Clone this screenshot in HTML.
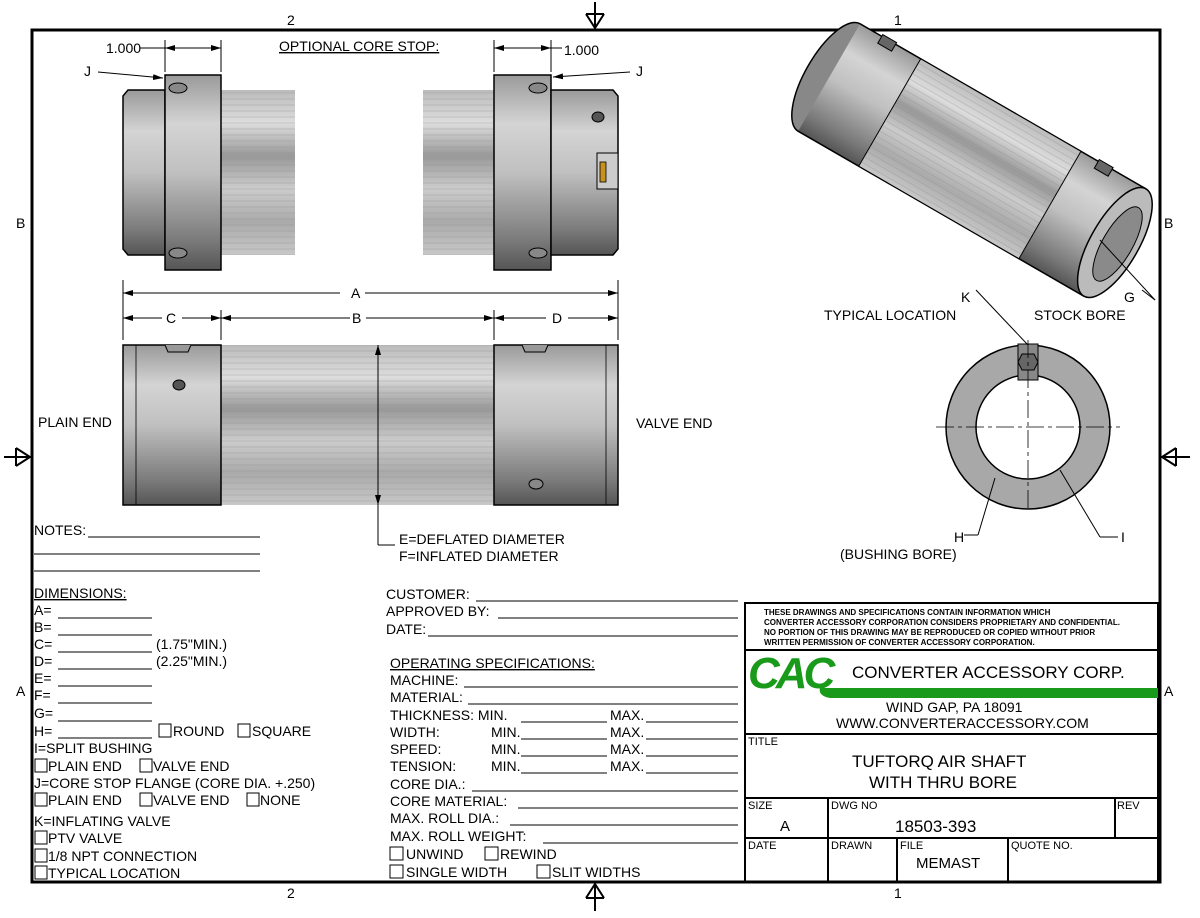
<!DOCTYPE html>
<html><head><meta charset="utf-8"><style>
body{margin:0;background:#fff}
svg text{font-family:"Liberation Sans",Arial,sans-serif;fill:#000}
</style></head><body>
<svg width="1200" height="913" viewBox="0 0 1200 913" xmlns="http://www.w3.org/2000/svg">
<defs>
<linearGradient id="cyl" x1="0" y1="0" x2="0" y2="1">
<stop offset="0" stop-color="#9a9a9a"/><stop offset="0.25" stop-color="#d4d4d4"/><stop offset="0.5" stop-color="#c0c0c0"/><stop offset="0.85" stop-color="#7a7a7a"/><stop offset="1" stop-color="#555"/></linearGradient>
<linearGradient id="flu" x1="0" y1="0" x2="0" y2="1">
<stop offset="0" stop-color="#bbb"/><stop offset="0.2" stop-color="#ddd"/><stop offset="0.4" stop-color="#999"/><stop offset="0.6" stop-color="#ccc"/><stop offset="0.8" stop-color="#aaa"/><stop offset="1" stop-color="#c8c8c8"/></linearGradient>
<pattern id="str" width="4" height="6" patternUnits="userSpaceOnUse"><rect width="4" height="6" fill="none"/><line x1="0" y1="3" x2="4" y2="3" stroke="#888" stroke-width="0.6" opacity="0.5"/></pattern>
<marker id="ar" markerWidth="10" markerHeight="6" refX="10" refY="3" orient="auto" markerUnits="userSpaceOnUse"><path d="M0,0 L10,3 L0,6z" fill="#000"/></marker>
</defs>
<g stroke="#000" fill="none">
<rect x="32" y="30" width="1128" height="852" stroke-width="3"/>
</g>
<g font-size="14">
<text x="287" y="25">2</text><text x="894" y="25">1</text><text x="287" y="898">2</text><text x="894" y="898">1</text>
<text x="16" y="228">B</text><text x="1164" y="228">B</text><text x="16" y="696">A</text><text x="1164" y="696">A</text>
</g>
<g stroke="#000" stroke-width="2" fill="none">
<line x1="595" y1="2" x2="595" y2="30"/><path d="M586,14 L595,28 L604,14"/><line x1="586" y1="14" x2="604" y2="14"/>
<line x1="595" y1="882" x2="595" y2="911"/><path d="M586,898 L595,884 L604,898"/><line x1="586" y1="898" x2="604" y2="898"/>
<line x1="4" y1="457" x2="32" y2="457"/><path d="M16,448 L30,457 L16,466"/><line x1="16" y1="448" x2="16" y2="466"/>
<line x1="1160" y1="457" x2="1190" y2="457"/><path d="M1176,448 L1162,457 L1176,466"/><line x1="1176" y1="448" x2="1176" y2="466"/>
</g>

<!-- top views -->
<g stroke="#000" stroke-width="1.5">
<rect x="221" y="90" width="74" height="165" fill="url(#flu)" stroke="none"/>
<rect x="221" y="90" width="74" height="165" fill="url(#str)" stroke="none"/>
<path d="M123,96 L128,90 L165,90 L165,255 L128,255 L123,249Z" fill="url(#cyl)"/>
<rect x="165" y="75" width="56" height="195" fill="url(#cyl)"/>
<rect x="423" y="90" width="71" height="165" fill="url(#flu)" stroke="none"/>
<rect x="423" y="90" width="71" height="165" fill="url(#str)" stroke="none"/>
<rect x="494" y="75" width="57" height="195" fill="url(#cyl)"/>
<path d="M551,90 L613,90 L618,96 L618,249 L613,255 L551,255Z" fill="url(#cyl)"/>
<rect x="597" y="153" width="21" height="36" fill="#ccc" stroke-width="1"/>
<rect x="600" y="162" width="6" height="20" fill="#c8901c" stroke-width="0.8"/>
</g>
<g fill="#555" stroke="#000">
<ellipse cx="178" cy="88" rx="9" ry="5" fill="#888"/><ellipse cx="178" cy="253" rx="9" ry="5" fill="#888"/>
<ellipse cx="538" cy="88" rx="9" ry="5" fill="#888"/><ellipse cx="538" cy="253" rx="9" ry="5" fill="#888"/>
<ellipse cx="598" cy="117" rx="6" ry="5"/>
</g>
<g stroke="#000" stroke-width="1">
<line x1="165" y1="40" x2="165" y2="72"/><line x1="221" y1="40" x2="221" y2="72"/>
<line x1="140" y1="48" x2="165" y2="48"/><line x1="165" y1="48" x2="221" y2="48" marker-end="url(#ar)"/><line x1="221" y1="48" x2="165" y2="48" marker-end="url(#ar)"/>
<line x1="494" y1="40" x2="494" y2="72"/><line x1="551" y1="40" x2="551" y2="72"/>
<line x1="494" y1="48" x2="551" y2="48" marker-end="url(#ar)"/><line x1="551" y1="48" x2="494" y2="48" marker-end="url(#ar)"/><line x1="551" y1="48" x2="562" y2="48"/>
<line x1="98" y1="72" x2="163" y2="78" marker-end="url(#ar)"/>
<line x1="630" y1="72" x2="553" y2="77" marker-end="url(#ar)"/>
</g>
<g font-size="14">
<text x="106" y="53">1.000</text><text x="564" y="55">1.000</text>
<text x="84" y="76">J</text><text x="636" y="76">J</text>
<text x="279" y="51" text-decoration="underline">OPTIONAL CORE STOP:</text>
</g>

<g stroke="#000" stroke-width="1">
<line x1="123" y1="280" x2="123" y2="340"/><line x1="618" y1="280" x2="618" y2="340"/>
<line x1="221" y1="310" x2="221" y2="340"/><line x1="494" y1="310" x2="494" y2="340"/>
<line x1="340" y1="293" x2="123" y2="293" marker-end="url(#ar)"/><line x1="365" y1="293" x2="618" y2="293" marker-end="url(#ar)"/>
<line x1="162" y1="318" x2="123" y2="318" marker-end="url(#ar)"/><line x1="182" y1="318" x2="221" y2="318" marker-end="url(#ar)"/>
<line x1="350" y1="318" x2="221" y2="318" marker-end="url(#ar)"/><line x1="366" y1="318" x2="494" y2="318" marker-end="url(#ar)"/>
<line x1="546" y1="318" x2="494" y2="318" marker-end="url(#ar)"/><line x1="568" y1="318" x2="618" y2="318" marker-end="url(#ar)"/>
</g>
<g font-size="14"><text x="351" y="298">A</text><text x="166" y="323">C</text><text x="352" y="323">B</text><text x="552" y="323">D</text></g>
<g stroke="#000" stroke-width="1.5">
<rect x="221" y="345" width="273" height="160" fill="url(#flu)" stroke="none"/>
<rect x="221" y="345" width="273" height="160" fill="url(#str)" stroke="none"/>
<rect x="123" y="345" width="98" height="160" fill="url(#cyl)"/>
<rect x="494" y="345" width="124" height="160" fill="url(#cyl)"/>
<line x1="136" y1="345" x2="136" y2="505" stroke-width="0.8"/><line x1="606" y1="345" x2="606" y2="505" stroke-width="0.8"/>
</g>
<g stroke="#000" fill="#555"><ellipse cx="179" cy="385" rx="6" ry="5"/><ellipse cx="536" cy="484" rx="7" ry="5" fill="#888"/>
<path d="M165,345 L168,352 L188,352 L191,345" fill="#999"/><path d="M522,345 L525,352 L545,352 L548,345" fill="#999"/></g>
<g stroke="#000" stroke-width="1">
<line x1="378" y1="345" x2="378" y2="505" marker-end="url(#ar)"/><line x1="378" y1="505" x2="378" y2="345" marker-end="url(#ar)"/>
<line x1="378" y1="505" x2="378" y2="545"/><line x1="378" y1="545" x2="395" y2="545"/>
</g>
<g font-size="14">
<text x="399" y="544">E=DEFLATED DIAMETER</text><text x="399" y="561">F=INFLATED DIAMETER</text>
<text x="38" y="427">PLAIN END</text><text x="636" y="428">VALVE END</text>
</g>

<!-- isometric -->
<g transform="translate(972,160) rotate(30)">
<ellipse cx="-165" cy="0" rx="24" ry="62" fill="#888" stroke="#000" stroke-width="1.5"/>
<rect x="-165" y="-62" width="330" height="124" fill="url(#cyl)" stroke="none"/>
<line x1="-165" y1="-62" x2="165" y2="-62" stroke="#000" stroke-width="1.5"/>
<line x1="-165" y1="62" x2="165" y2="62" stroke="#000" stroke-width="1.5"/>
<rect x="-95" y="-62" width="185" height="124" fill="url(#flu)" stroke="#000" stroke-width="1"/>
<rect x="-95" y="-62" width="185" height="124" fill="url(#str)"/>
<ellipse cx="165" cy="0" rx="24" ry="62" fill="#bbb" stroke="#000" stroke-width="1.5"/>
<ellipse cx="168" cy="0" rx="15" ry="42" fill="#8a8a8a" stroke="#000"/>
<rect x="-140" y="-64" width="16" height="10" fill="#666" stroke="#000"/>
<rect x="110" y="-64" width="16" height="10" fill="#666" stroke="#000"/>
</g>
<g stroke="#000" stroke-width="1"><line x1="1100" y1="240" x2="1155" y2="300"/><line x1="1142" y1="290" x2="1155" y2="300"/></g>
<g font-size="14"><text x="1124" y="302">G</text><text x="1034" y="320">STOCK BORE</text><text x="824" y="320">TYPICAL LOCATION</text><text x="961" y="302">K</text></g>

<g stroke="#000">
<circle cx="1028" cy="427" r="82" fill="#a8a8a8" stroke-width="1.5"/>
<circle cx="1028" cy="427" r="52" fill="#fff" stroke-width="1.5"/>
<rect x="1018" y="344" width="20" height="36" fill="#888"/>
<polygon points="1022,354 1034,354 1038,362 1034,370 1022,370 1018,362" fill="#666"/>
<g stroke-width="0.8" stroke-dasharray="18,4,4,4"><line x1="936" y1="427" x2="1120" y2="427"/><line x1="1028" y1="340" x2="1028" y2="512"/></g>
<line x1="976" y1="290" x2="1028" y2="345" stroke-width="1"/>
<line x1="995" y1="478" x2="978" y2="535" stroke-width="1"/><line x1="978" y1="535" x2="964" y2="535" stroke-width="1"/>
<line x1="1060" y1="470" x2="1100" y2="537" stroke-width="1"/><line x1="1100" y1="537" x2="1118" y2="537" stroke-width="1"/>
</g>
<g font-size="14"><text x="954" y="542">H</text><text x="840" y="559">(BUSHING BORE)</text><text x="1121" y="542">I</text></g>

<g font-size="14">
<text x="34" y="535">NOTES:</text>
<text x="34" y="598" text-decoration="underline">DIMENSIONS:</text>
<text x="34" y="615">A=</text><text x="34" y="632">B=</text><text x="34" y="649">C=</text><text x="156" y="649">(1.75"MIN.)</text>
<text x="34" y="666">D=</text><text x="156" y="666">(2.25"MIN.)</text>
<text x="34" y="683">E=</text><text x="34" y="700">F=</text><text x="34" y="718">G=</text><text x="34" y="736">H=</text>
<text x="173" y="736">ROUND</text><text x="252" y="736">SQUARE</text>
<text x="34" y="753">I=SPLIT BUSHING</text>
<text x="48" y="771">PLAIN END</text><text x="153" y="771">VALVE END</text>
<text x="34" y="788">J=CORE STOP FLANGE (CORE DIA. +.250)</text>
<text x="48" y="805">PLAIN END</text><text x="153" y="805">VALVE END</text><text x="260" y="805">NONE</text>
<text x="34" y="826">K=INFLATING VALVE</text>
<text x="48" y="843">PTV VALVE</text>
<text x="48" y="861">1/8 NPT CONNECTION</text>
<text x="48" y="878">TYPICAL LOCATION</text>
</g>
<g stroke="#000" stroke-width="1" fill="none">
<line x1="88" y1="537" x2="260" y2="537"/><line x1="34" y1="554" x2="260" y2="554"/><line x1="34" y1="571" x2="260" y2="571"/>
<line x1="58" y1="618" x2="152" y2="618"/><line x1="58" y1="635" x2="152" y2="635"/><line x1="58" y1="652" x2="152" y2="652"/><line x1="58" y1="669" x2="152" y2="669"/><line x1="58" y1="686" x2="152" y2="686"/><line x1="58" y1="703" x2="152" y2="703"/><line x1="58" y1="721" x2="152" y2="721"/><line x1="58" y1="738" x2="152" y2="738"/>
<rect x="159" y="724" width="12" height="13"/><rect x="238" y="724" width="12" height="13"/>
<rect x="35" y="759" width="12" height="13"/><rect x="140" y="759" width="12" height="13"/>
<rect x="35" y="793" width="12" height="13"/><rect x="140" y="793" width="12" height="13"/><rect x="247" y="793" width="12" height="13"/>
<rect x="35" y="831" width="12" height="13"/><rect x="35" y="849" width="12" height="13"/><rect x="35" y="866" width="12" height="13"/>
</g>
<g font-size="14">
<text x="386" y="599">CUSTOMER:</text><text x="386" y="616">APPROVED BY:</text><text x="386" y="634">DATE:</text>
<text x="390" y="668" text-decoration="underline">OPERATING SPECIFICATIONS:</text>
<text x="390" y="685">MACHINE:</text><text x="390" y="702">MATERIAL:</text>
<text x="390" y="720">THICKNESS: MIN.</text><text x="610" y="720">MAX.</text>
<text x="390" y="737">WIDTH:</text><text x="491" y="737">MIN.</text><text x="610" y="737">MAX.</text>
<text x="390" y="754">SPEED:</text><text x="491" y="754">MIN.</text><text x="610" y="754">MAX.</text>
<text x="390" y="771">TENSION:</text><text x="491" y="771">MIN.</text><text x="610" y="771">MAX.</text>
<text x="390" y="789">CORE DIA.:</text><text x="390" y="806">CORE MATERIAL:</text><text x="390" y="823">MAX. ROLL DIA.:</text><text x="390" y="841">MAX. ROLL WEIGHT:</text>
<text x="406" y="859">UNWIND</text><text x="500" y="859">REWIND</text>
<text x="406" y="877">SINGLE WIDTH</text><text x="552" y="877">SLIT WIDTHS</text>
</g>
<g stroke="#000" stroke-width="1" fill="none">
<line x1="476" y1="601" x2="738" y2="601"/><line x1="498" y1="618" x2="738" y2="618"/><line x1="428" y1="636" x2="738" y2="636"/>
<line x1="464" y1="687" x2="738" y2="687"/><line x1="468" y1="704" x2="738" y2="704"/>
<line x1="521" y1="722" x2="607" y2="722"/><line x1="646" y1="722" x2="738" y2="722"/>
<line x1="521" y1="739" x2="607" y2="739"/><line x1="646" y1="739" x2="738" y2="739"/>
<line x1="521" y1="756" x2="607" y2="756"/><line x1="646" y1="756" x2="738" y2="756"/>
<line x1="521" y1="773" x2="607" y2="773"/><line x1="646" y1="773" x2="738" y2="773"/>
<line x1="472" y1="791" x2="738" y2="791"/><line x1="518" y1="808" x2="738" y2="808"/><line x1="510" y1="825" x2="738" y2="825"/><line x1="543" y1="843" x2="738" y2="843"/>
<rect x="390" y="847" width="13" height="13"/><rect x="485" y="847" width="13" height="13"/>
<rect x="390" y="865" width="13" height="13"/><rect x="537" y="865" width="13" height="13"/>
</g>

<g stroke="#000" stroke-width="2" fill="none">
<rect x="745" y="603" width="413" height="279"/>
<line x1="745" y1="650" x2="1158" y2="650"/><line x1="745" y1="734" x2="1158" y2="734"/>
<line x1="745" y1="798" x2="1158" y2="798"/><line x1="745" y1="838" x2="1158" y2="838"/>
<line x1="828" y1="798" x2="828" y2="882"/><line x1="1115" y1="798" x2="1115" y2="838"/>
<line x1="897" y1="838" x2="897" y2="882"/><line x1="1008" y1="838" x2="1008" y2="882"/>
</g>
<g font-size="8" font-weight="bold">
<text x="764" y="615">THESE DRAWINGS AND SPECIFICATIONS CONTAIN INFORMATION WHICH</text>
<text x="764" y="625">CONVERTER ACCESSORY CORPORATION CONSIDERS PROPRIETARY AND CONFIDENTIAL.</text>
<text x="764" y="635">NO PORTION OF THIS DRAWING MAY BE REPRODUCED OR COPIED WITHOUT PRIOR</text>
<text x="764" y="645">WRITTEN PERMISSION OF CONVERTER ACCESSORY CORPORATION.</text>
</g>
<g fill="#1a9a1a">
<text x="748" y="688" font-size="44" font-weight="bold" font-style="italic" style="fill:#1a9a1a;letter-spacing:-4px">CAC</text>
<path d="M820,688 L1158,688 L1158,698 L830,698 Q818,696 820,688Z"/>
</g>
<g font-size="17">
<text x="852" y="678">CONVERTER ACCESSORY CORP.</text>
</g>
<g font-size="14">
<text x="886" y="712">WIND GAP, PA 18091</text>
<text x="836" y="728">WWW.CONVERTERACCESSORY.COM</text>
<text x="748" y="745" font-size="11">TITLE</text>
<text x="852" y="767" font-size="17">TUFTORQ AIR SHAFT</text>
<text x="869" y="788" font-size="17">WITH THRU BORE</text>
<text x="748" y="809" font-size="11">SIZE</text><text x="831" y="809" font-size="11">DWG NO</text><text x="1117" y="809" font-size="11">REV</text>
<text x="780" y="831" font-size="15">A</text><text x="895" y="832" font-size="17">18503-393</text>
<text x="748" y="849" font-size="11">DATE</text><text x="831" y="849" font-size="11">DRAWN</text><text x="900" y="849" font-size="11">FILE</text><text x="1011" y="849" font-size="11">QUOTE NO.</text>
<text x="916" y="868" font-size="15">MEMAST</text>
</g>
</svg>
</body></html>
